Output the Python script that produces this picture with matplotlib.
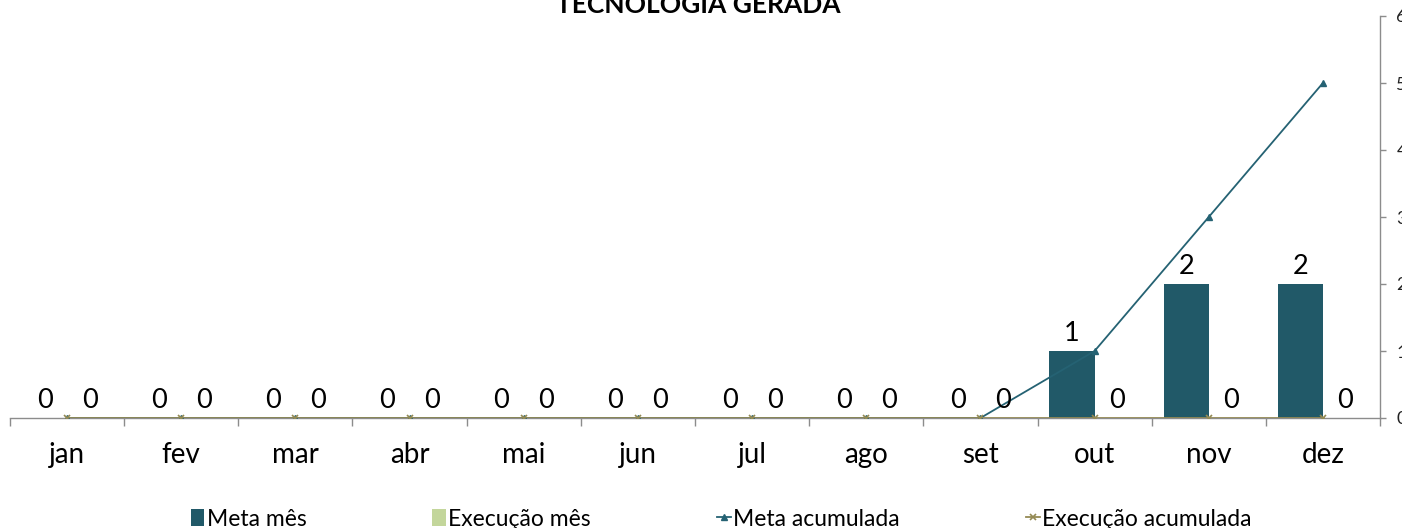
import matplotlib
matplotlib.use("Agg")
import matplotlib.pyplot as plt
import numpy as np
from matplotlib.lines import Line2D
from matplotlib.patches import Patch

months = ["jan", "fev", "mar", "abr", "mai", "jun", "jul", "ago", "set", "out", "nov", "dez"]
meta_mes = [0, 0, 0, 0, 0, 0, 0, 0, 0, 1, 2, 2]
execucao_mes = [0, 0, 0, 0, 0, 0, 0, 0, 0, 0, 0, 0]
meta_acumulada = [0, 0, 0, 0, 0, 0, 0, 0, 0, 1, 3, 5]
execucao_acumulada = [0, 0, 0, 0, 0, 0, 0, 0, 0, 0, 0, 0]
y_ticks = [0, 1, 2, 3, 4, 5, 6]
title = "TECNOLOGIA GERADA"
legend_labels = ["Meta mês", "Execução mês", "Meta acumulada", "Execução acumulada"]

FONT = "Lato"
plt.rcParams["font.family"] = [FONT, "DejaVu Sans"]

c_meta = "#215968"
c_exec = "#C3D69B"
c_meta_line = "#256273"
c_exec_line = "#948A54"
c_axis = "#8C8C8C"

W, H = 1402, 528
fig = plt.figure(figsize=(W / 100, H / 100), dpi=100)
left, right, bottom, top = 10, 1380, 418, 16
ax = fig.add_axes([left / W, 1 - bottom / H, (right - left) / W, (bottom - top) / H])

x = np.arange(len(months))
bw = 0.395
b1 = ax.bar(x - bw / 2, meta_mes, width=bw, color=c_meta, zorder=2)
b2 = ax.bar(x + bw / 2, execucao_mes, width=bw, color=c_exec, zorder=2)

ax.plot(x, meta_acumulada, color=c_meta_line, lw=1.3, marker="^", ms=4.5, zorder=4)
ax.plot(x, execucao_acumulada, color=c_exec_line, lw=2.0, marker="x", ms=4, mew=1.2, zorder=5)

for bars in (b1, b2):
    for rect in bars:
        h = rect.get_height()
        ax.annotate(f"{h:g}", (rect.get_x() + rect.get_width() / 2, h),
                    xytext=(0, 3.5), textcoords="offset points",
                    ha="center", va="bottom", fontsize=19.5, color="black", zorder=6)

ax.set_xlim(-0.5, len(months) - 0.5)
ax.set_ylim(0, 6)

for s in ("top", "left"):
    ax.spines[s].set_visible(False)
ax.spines["bottom"].set_color(c_axis)
ax.spines["right"].set_color(c_axis)
ax.spines["bottom"].set_linewidth(1.0)
ax.spines["right"].set_linewidth(1.0)
ax.spines["bottom"].set_zorder(1)

ax.yaxis.tick_right()
ax.set_yticks(y_ticks)
ax.set_yticklabels([str(v) for v in y_ticks])
ax.tick_params(axis="y", which="major", direction="out", length=4.3, width=1,
               color=c_axis, labelsize=13, pad=7.5, labelcolor="#222222")

ax.set_xticks(x)
ax.set_xticklabels(months)
ax.tick_params(axis="x", which="major", length=0, labelsize=20, pad=17)
ax.set_xticks(np.arange(-0.5, len(months), 1.0), minor=True)
ax.tick_params(axis="x", which="minor", direction="out", length=6, width=1, color=c_axis)

fig.text(698 / W, 1 - 13 / H, title, ha="center", va="baseline",
         fontsize=19, fontweight="bold", color="black")

handles = [
    Patch(facecolor=c_meta, edgecolor="none"),
    Patch(facecolor=c_exec, edgecolor="none"),
    Line2D([], [], color=c_meta_line, lw=1.3, marker="^", ms=4.5),
    Line2D([], [], color=c_exec_line, lw=1.3, marker="x", ms=4, mew=1.2),
]
fig.legend(handles, legend_labels, ncol=4, loc="center", bbox_to_anchor=(721 / W, 1 - 519 / H),
           frameon=False, fontsize=16.5, handlelength=0.6, handleheight=0.7,
           handletextpad=0.1, columnspacing=5.5, borderpad=0)

fig.savefig("out.png", dpi=100)
